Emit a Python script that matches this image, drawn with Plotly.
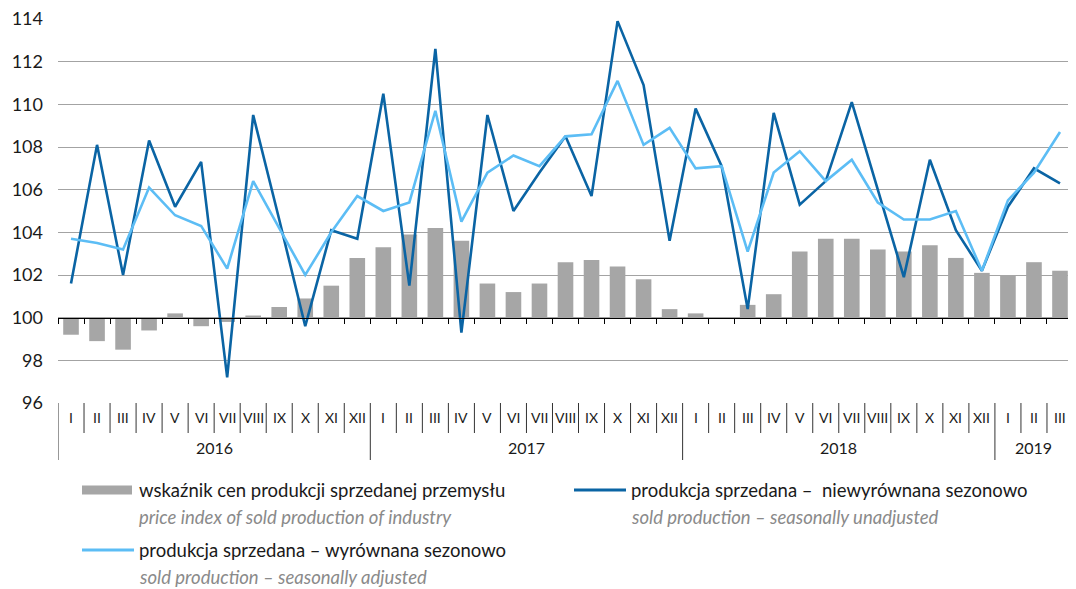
import plotly.graph_objects as go

months = ["I", "II", "III", "IV", "V", "VI", "VII", "VIII", "IX", "X", "XI", "XII"] * 3 + ["I", "II", "III"]
years = ["2016", "2017", "2018", "2019"]
year_len = [12, 12, 12, 3]

# wskaźnik cen produkcji sprzedanej przemysłu
price_index = [99.2, 98.9, 98.5, 99.4, 100.2, 99.6, 99.8, 100.1, 100.5, 100.9, 101.5, 102.8,
               103.3, 103.9, 104.2, 103.6, 101.6, 101.2, 101.6, 102.6, 102.7, 102.4, 101.8, 100.4,
               100.2, 100.0, 100.6, 101.1, 103.1, 103.7, 103.7, 103.2, 103.1, 103.4, 102.8, 102.1,
               102.0, 102.6, 102.2]

# produkcja sprzedana - niewyrównana sezonowo
unadjusted = [101.6, 108.1, 102.0, 108.3, 105.2, 107.3, 97.2, 109.5, 104.6, 99.6, 104.1, 103.7,
              110.5, 101.5, 112.6, 99.3, 109.5, 105.0, 106.8, 108.5, 105.7, 113.9, 110.9, 103.6,
              109.8, 107.1, 100.4, 109.6, 105.3, 106.4, 110.1, 106.0, 101.9, 107.4, 104.1, 102.2,
              105.2, 107.0, 106.3]

# produkcja sprzedana - wyrównana sezonowo
adjusted = [103.7, 103.5, 103.2, 106.1, 104.8, 104.3, 102.3, 106.4, 104.2, 102.0, 104.0, 105.7,
            105.0, 105.4, 109.7, 104.5, 106.8, 107.6, 107.1, 108.5, 108.6, 111.1, 108.1, 108.9,
            107.0, 107.1, 103.1, 106.8, 107.8, 106.4, 107.4, 105.4, 104.6, 104.6, 105.0, 102.2,
            105.5, 106.8, 108.7]

FONT = "Lato"
TXT = "#1a1a1a"
GREY = "#8a8a8a"
BAR_C = "#a6a6a6"
DARK = "#0a64a4"
LIGHT = "#5cbdf5"

# the page body has an 8px margin, so the figure is drawn 8px in from the top-left
OFF = 8

x = list(range(len(months)))

fig = go.Figure()
fig.add_trace(go.Bar(x=x, y=[v - 100 for v in price_index], base=100,
                     marker=dict(color=BAR_C, line=dict(width=0)), width=0.6,
                     showlegend=False))
fig.add_trace(go.Scatter(x=x, y=unadjusted, mode="lines",
                         line=dict(color=DARK, width=2.6), showlegend=False))
fig.add_trace(go.Scatter(x=x, y=adjusted, mode="lines",
                         line=dict(color=LIGHT, width=2.6), showlegend=False))

fig.update_layout(
    width=1076 - OFF, height=589 - OFF,
    margin=dict(l=58 - OFF, r=3, t=19 - OFF, b=186, autoexpand=False),
    plot_bgcolor="white", paper_bgcolor="white",
    font=dict(family=FONT, color=TXT, size=17),
    bargap=0.4,
    xaxis=dict(range=[-0.5, len(x) - 0.5], anchor="free", position=4 / 18,
               showline=True, linecolor="black", linewidth=1.2,
               ticks="outside", ticklen=5, tickcolor="black",
               tickvals=[i - 0.5 for i in range(len(x) + 1)],
               showticklabels=False, showgrid=False, zeroline=False),
    yaxis=dict(range=[96, 114], tickvals=list(range(96, 115, 2)),
               showgrid=True, gridcolor="#a3a3a3", gridwidth=1,
               zeroline=False, showline=False, ticks="", ticklabelstandoff=14,
               ticklabeloverflow="allow",
               tickfont=dict(size=18, color=TXT)),
)


# positions below are given in screen pixels of the 1076x589 view
def px_to_paper_y(py):
    return (403 - py) / 384


def px_to_paper_x(px):
    return (px - 58) / 1015


# category table below the plot
shapes = []
boundaries = [0]
for n in year_len:
    boundaries.append(boundaries[-1] + n)
for i in range(len(x) + 1):
    bottom = 460 if i in boundaries[:-1] else 433
    shapes.append(dict(type="line", xref="x", yref="paper",
                       x0=i - 0.5, x1=i - 0.5, y0=0, y1=px_to_paper_y(bottom),
                       line=dict(color="#333333", width=1)))

annotations = []
for i, m in enumerate(months):
    annotations.append(dict(x=i, y=px_to_paper_y(417), xref="x", yref="paper",
                            text=m, showarrow=False, font=dict(size=14, color=TXT),
                            xanchor="center", yanchor="middle"))
for j, yr in enumerate(years):
    mid = (boundaries[j] + boundaries[j + 1] - 1) / 2
    annotations.append(dict(x=mid, y=px_to_paper_y(447), xref="x", yref="paper",
                            text=yr, showarrow=False, font=dict(size=16, color=TXT),
                            xanchor="center", yanchor="middle"))

# hand-made legend
legend_items = [
    ("bar", BAR_C, 82, 490, "wskaźnik cen produkcji sprzedanej przemysłu",
     "price index of sold production of industry"),
    ("line", DARK, 574, 490, "produkcja sprzedana –  niewyrównana sezonowo",
     "sold production – seasonally unadjusted"),
    ("line", LIGHT, 82, 550, "produkcja sprzedana – wyrównana sezonowo",
     "sold production – seasonally adjusted"),
]
for kind, col, sx, sy, main, sub in legend_items:
    if kind == "bar":
        shapes.append(dict(type="rect", xref="paper", yref="paper",
                           x0=px_to_paper_x(sx), x1=px_to_paper_x(sx + 50),
                           y0=px_to_paper_y(sy - 4.5), y1=px_to_paper_y(sy + 4.5),
                           fillcolor=col, line=dict(width=0)))
    else:
        shapes.append(dict(type="line", xref="paper", yref="paper",
                           x0=px_to_paper_x(sx), x1=px_to_paper_x(sx + 52),
                           y0=px_to_paper_y(sy), y1=px_to_paper_y(sy),
                           line=dict(color=col, width=3)))
    annotations.append(dict(x=px_to_paper_x(sx + 55), y=px_to_paper_y(sy), xref="paper", yref="paper",
                            text=main, showarrow=False, xanchor="left", yanchor="middle",
                            font=dict(size=18.5, color=TXT)))
    annotations.append(dict(x=px_to_paper_x(sx + 55), y=px_to_paper_y(sy + 27), xref="paper", yref="paper",
                            text="<i>" + sub + "</i>", showarrow=False, xanchor="left", yanchor="middle",
                            font=dict(size=18.5, color=GREY)))

fig.update_layout(shapes=shapes, annotations=annotations)

fig.write_html("out.html")
